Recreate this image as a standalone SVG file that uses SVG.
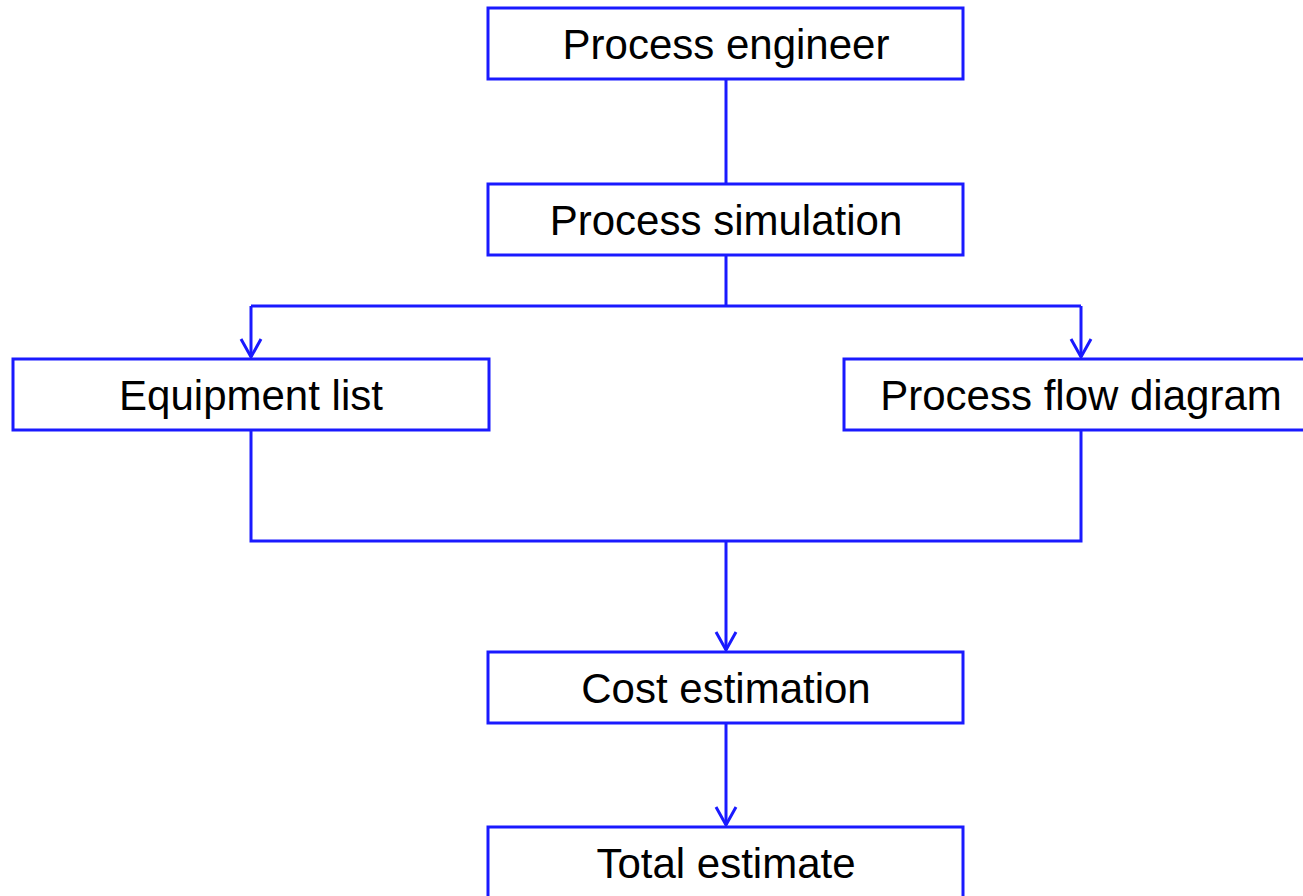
<svg xmlns="http://www.w3.org/2000/svg" width="1303" height="896" viewBox="0 0 1303 896">
<style>
.box{fill:#fff;stroke:#1a1aff;stroke-width:3}
.lbl{font-family:"Liberation Sans",Arial,sans-serif;font-size:42px;fill:#000;text-anchor:middle}
.con{fill:none;stroke:#1a1aff;stroke-width:3}
.head{fill:none;stroke:#1a1aff;stroke-width:3}
</style>
<rect width="1303" height="896" fill="#fff"/>
<g id="connectors">
<path class="con" d="M726,79 V184"/>
<path class="con" d="M726,255 V306 M251,306 H1081"/>
<path class="con" d="M251,306 V357"/>
<path class="con" d="M1081,306 V357"/>
<path class="con" d="M251,430 V541 H1081 V430"/>
<path class="con" d="M726,541 V650"/>
<path class="con" d="M726,723 V825"/>
<path class="head" d="M241,339 L251,357 L261,339"/>
<path class="head" d="M1071,339 L1081,357 L1091,339"/>
<path class="head" d="M716,632 L726,650 L736,632"/>
<path class="head" d="M716,807 L726,825 L736,807"/>
</g>
<g id="n1"><rect class="box" x="488" y="8" width="475" height="71"/><text class="lbl" x="726" y="59">Process engineer</text></g>
<g id="n2"><rect class="box" x="488" y="184" width="475" height="71"/><text class="lbl" x="726" y="235">Process simulation</text></g>
<g id="n3"><rect class="box" x="13" y="359" width="476" height="71"/><text class="lbl" x="251" y="410">Equipment list</text></g>
<g id="n4"><rect class="box" x="844" y="359" width="475" height="71"/><text class="lbl" x="1081" y="410">Process flow diagram</text></g>
<g id="n5"><rect class="box" x="488" y="652" width="475" height="71"/><text class="lbl" x="726" y="703">Cost estimation</text></g>
<g id="n6"><rect class="box" x="488" y="827" width="475" height="80"/><text class="lbl" x="726" y="878">Total estimate</text></g>
</svg>
